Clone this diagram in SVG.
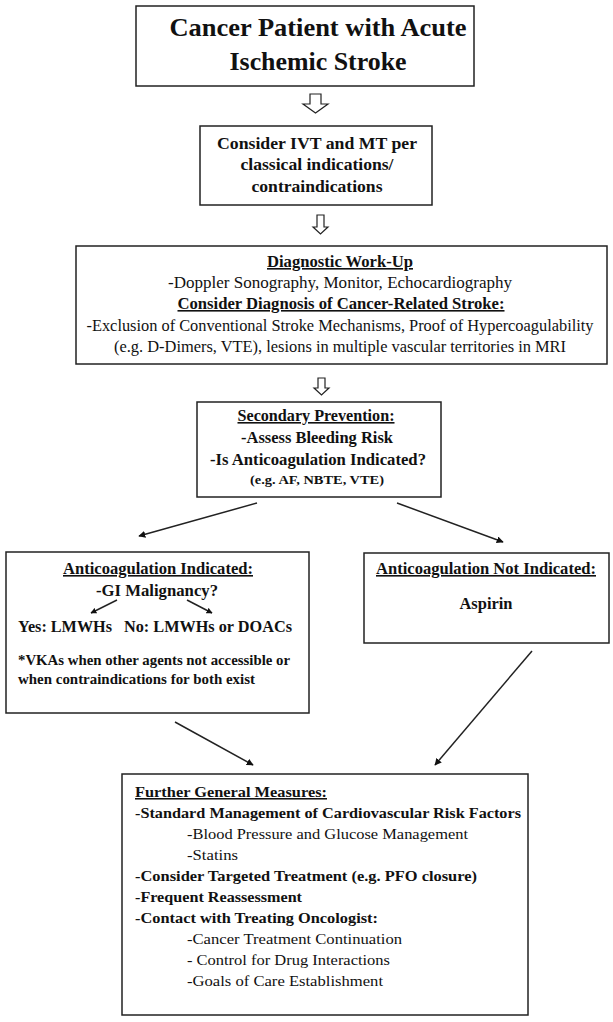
<svg xmlns="http://www.w3.org/2000/svg" width="613" height="1022" viewBox="0 0 613 1022" font-family="'Liberation Serif', 'Times New Roman', serif">
<defs>
<style>
.box{fill:#fff;stroke:#222;stroke-width:1.5}
.blk{fill:#fff;stroke:#222;stroke-width:1.2}
text{font-family:'Liberation Serif','Times New Roman',serif;fill:#111}
.b{font-weight:bold}
.u{text-decoration:underline}
.c{stroke:#222;stroke-width:1.5;fill:none}
</style>
<marker id="ah" viewBox="0 0 10 10" refX="9" refY="5" markerWidth="7" markerHeight="7" markerUnits="userSpaceOnUse" orient="auto">
<path d="M0,0 L10,5 L0,10 z" fill="#111"/>
</marker>
<marker id="ahs" viewBox="0 0 10 10" refX="9" refY="5" markerWidth="6" markerHeight="6" markerUnits="userSpaceOnUse" orient="auto">
<path d="M0,0 L10,5 L0,10 z" fill="#111"/>
</marker>
</defs>
<rect width="613" height="1022" fill="#fff"/>

<g id="n1">
<rect class="box" x="136" y="6" width="338" height="80"/>
<text class="b" x="318" y="36" font-size="26" text-anchor="middle" textLength="297" lengthAdjust="spacingAndGlyphs">Cancer Patient with Acute</text>
<text class="b" x="318" y="70" font-size="26" text-anchor="middle" textLength="177" lengthAdjust="spacingAndGlyphs">Ischemic Stroke</text>
</g>

<g id="n2">
<rect class="box" x="200" y="126" width="232" height="79"/>
<text class="b" x="317" y="149" font-size="17.5" text-anchor="middle" textLength="200" lengthAdjust="spacingAndGlyphs">Consider IVT and MT per</text>
<text class="b" x="317" y="170" font-size="17.5" text-anchor="middle" textLength="153" lengthAdjust="spacingAndGlyphs">classical indications/</text>
<text class="b" x="317" y="192" font-size="17.5" text-anchor="middle" textLength="131" lengthAdjust="spacingAndGlyphs">contraindications</text>
</g>

<g id="n3">
<rect class="box" x="76" y="246" width="531" height="118"/>
<text class="b u" x="340" y="267" font-size="16" text-anchor="middle" textLength="146" lengthAdjust="spacingAndGlyphs">Diagnostic Work-Up</text>
<text x="340" y="288" font-size="16" text-anchor="middle" textLength="344" lengthAdjust="spacingAndGlyphs">-Doppler Sonography, Monitor, Echocardiography</text>
<text class="b u" x="341" y="309" font-size="16" text-anchor="middle" textLength="327" lengthAdjust="spacingAndGlyphs">Consider Diagnosis of Cancer-Related Stroke:</text>
<text x="340" y="331" font-size="16" text-anchor="middle" textLength="507" lengthAdjust="spacingAndGlyphs">-Exclusion of Conventional Stroke Mechanisms, Proof of Hypercoagulability</text>
<text x="340" y="352" font-size="16" text-anchor="middle" textLength="452" lengthAdjust="spacingAndGlyphs">(e.g. D-Dimers, VTE), lesions in multiple vascular territories in MRI</text>
</g>

<g id="n4">
<rect class="box" x="197" y="402" width="244" height="95"/>
<text class="b u" x="316" y="421" font-size="16" text-anchor="middle" textLength="157" lengthAdjust="spacingAndGlyphs">Secondary Prevention:</text>
<text class="b" x="317" y="443" font-size="16.5" text-anchor="middle" textLength="152" lengthAdjust="spacingAndGlyphs">-Assess Bleeding Risk</text>
<text class="b" x="318" y="465" font-size="16.5" text-anchor="middle" textLength="216" lengthAdjust="spacingAndGlyphs">-Is Anticoagulation Indicated?</text>
<text class="b" x="317" y="484" font-size="13" text-anchor="middle" textLength="134" lengthAdjust="spacingAndGlyphs">(e.g. AF, NBTE, VTE)</text>
</g>

<g id="n5">
<rect class="box" x="6" y="552" width="303" height="161"/>
<text class="b u" x="158" y="574" font-size="16" text-anchor="middle" textLength="190" lengthAdjust="spacingAndGlyphs">Anticoagulation Indicated:</text>
<text class="b" x="157" y="596" font-size="16" text-anchor="middle" textLength="122" lengthAdjust="spacingAndGlyphs">-GI Malignancy?</text>
<line class="c" x1="117" y1="600" x2="91" y2="613" marker-end="url(#ahs)"/>
<line class="c" x1="187" y1="600" x2="212" y2="613" marker-end="url(#ahs)"/>
<text class="b" x="18" y="632" font-size="16" textLength="94" lengthAdjust="spacingAndGlyphs">Yes: LMWHs</text>
<text class="b" x="124" y="632" font-size="16" textLength="168" lengthAdjust="spacingAndGlyphs">No: LMWHs or DOACs</text>
<text class="b" x="18" y="665" font-size="15" textLength="272" lengthAdjust="spacingAndGlyphs">*VKAs when other agents not accessible or</text>
<text class="b" x="18" y="684" font-size="15" textLength="237" lengthAdjust="spacingAndGlyphs">when contraindications for both exist</text>
</g>

<g id="n6">
<rect class="box" x="364" y="553" width="245" height="90"/>
<text class="b u" x="486" y="574" font-size="16" text-anchor="middle" textLength="220" lengthAdjust="spacingAndGlyphs">Anticoagulation Not Indicated:</text>
<text class="b" x="486" y="609" font-size="16" text-anchor="middle" textLength="53" lengthAdjust="spacingAndGlyphs">Aspirin</text>
</g>

<g id="n7">
<rect class="box" x="122" y="774" width="406" height="241"/>
<text class="b u" x="135" y="797" font-size="15.5" textLength="192" lengthAdjust="spacingAndGlyphs">Further General Measures:</text>
<text class="b" x="135" y="818" font-size="15.5" textLength="386" lengthAdjust="spacingAndGlyphs">-Standard Management of Cardiovascular Risk Factors</text>
<text x="187" y="839" font-size="15.5" textLength="281" lengthAdjust="spacingAndGlyphs">-Blood Pressure and Glucose Management</text>
<text x="187" y="860" font-size="15.5" textLength="51" lengthAdjust="spacingAndGlyphs">-Statins</text>
<text class="b" x="135" y="881" font-size="15.5" textLength="342" lengthAdjust="spacingAndGlyphs">-Consider Targeted Treatment (e.g. PFO closure)</text>
<text class="b" x="135" y="902" font-size="15.5" textLength="167" lengthAdjust="spacingAndGlyphs">-Frequent Reassessment</text>
<text class="b" x="135" y="923" font-size="15.5" textLength="243" lengthAdjust="spacingAndGlyphs">-Contact with Treating Oncologist:</text>
<text x="187" y="944" font-size="15.5" textLength="215" lengthAdjust="spacingAndGlyphs">-Cancer Treatment Continuation</text>
<text x="187" y="965" font-size="15.5" textLength="203" lengthAdjust="spacingAndGlyphs">- Control for Drug Interactions</text>
<text x="187" y="986" font-size="15.5" textLength="196" lengthAdjust="spacingAndGlyphs">-Goals of Care Establishment</text>
</g>

<g id="connectors">
<polygon class="blk" points="310,94 321,94 321,104 328,104 315.5,113 303,104 310,104"/>
<polygon class="blk" points="317,215 324,215 324,227 328,227 320.5,234 313,227 317,227"/>
<polygon class="blk" points="318,378 325,378 325,388 329,388 321.5,395 314,388 318,388"/>
<line class="c" x1="257" y1="503" x2="139" y2="536" marker-end="url(#ah)"/>
<line class="c" x1="397" y1="503" x2="503" y2="542" marker-end="url(#ah)"/>
<line class="c" x1="175" y1="722" x2="253" y2="765" marker-end="url(#ah)"/>
<line class="c" x1="532" y1="651" x2="435" y2="765" marker-end="url(#ah)"/>
</g>
</svg>
